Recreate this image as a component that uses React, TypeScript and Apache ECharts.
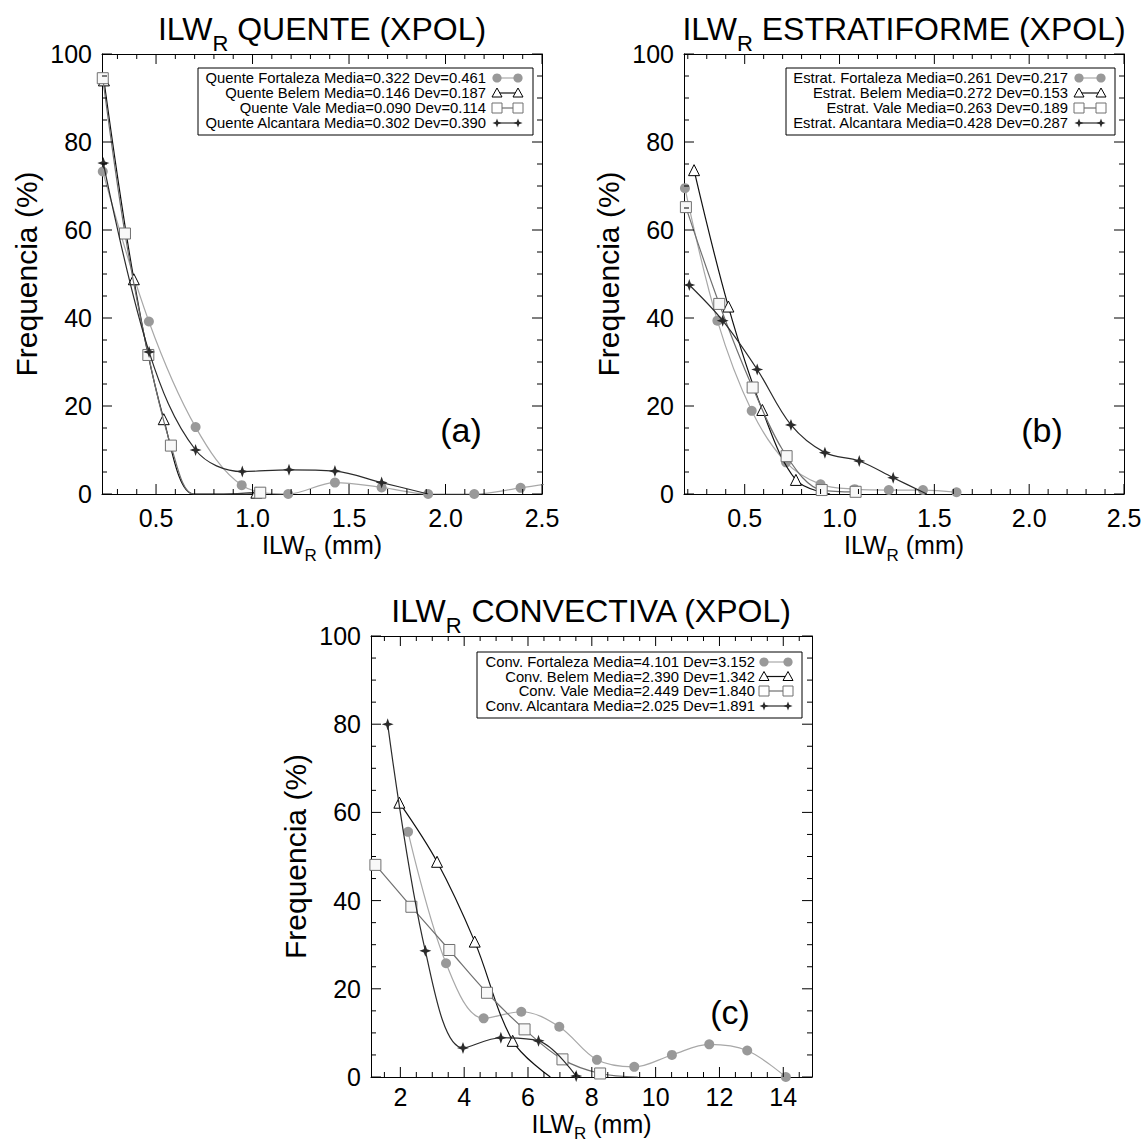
import React, { useEffect, useRef } from "react";
import * as echarts from "echarts";

const FONT = "'Liberation Sans', Arial, Helvetica, sans-serif";

// ---------------- (a) QUENTE ----------------
const quenteFortaleza: number[][] = [[0.224, 73.3], [0.463, 39.2], [0.705, 15.2], [0.944, 2.0], [1.185, 0], [1.427, 2.6], [1.669, 1.5], [1.91, 0], [2.149, 0], [2.389, 1.4], [2.63, 3.0]];
const quenteBelem: number[][] = [[0.23, 94.0], [0.385, 48.8], [0.54, 17.0], [0.695, 0], [0.85, 0], [1.02, 0.3]];
const quenteBelemNoMarker = [3, 4];
const quenteVale: number[][] = [[0.224, 94.5], [0.339, 59.2], [0.46, 31.6], [0.577, 11.0], [0.694, 0], [0.811, 0], [0.928, 0], [1.04, 0.3]];
const quenteValeNoMarker = [4, 5, 6];
const quenteAlcantara: number[][] = [[0.227, 75.2], [0.464, 32.3], [0.705, 10.0], [0.947, 5.1], [1.189, 5.5], [1.427, 5.2], [1.669, 2.6], [1.91, 0]];
const quenteAlcantaraNoMarker = [7];
const quenteLegend = [
  "Quente Fortaleza Media=0.322 Dev=0.461",
  "Quente Belem Media=0.146 Dev=0.187",
  "Quente Vale Media=0.090 Dev=0.114",
  "Quente Alcantara Media=0.302 Dev=0.390",
];
const quenteXLabels = [0.5, 1.0, 1.5, 2.0, 2.5];

// ---------------- (b) ESTRATIFORME ----------------
const estratFortaleza: number[][] = [[0.185, 69.5], [0.356, 39.4], [0.537, 18.9], [0.718, 7.2], [0.9, 2.2], [1.08, 1.1], [1.26, 0.9], [1.44, 0.9], [1.617, 0.4]];
const estratBelem: number[][] = [[0.233, 73.6], [0.414, 42.6], [0.593, 19.1], [0.77, 3.2], [0.95, 0]];
const estratBelemNoMarker = [4];
const estratVale: number[][] = [[0.19, 65.2], [0.366, 43.2], [0.542, 24.2], [0.721, 8.6], [0.906, 0.9], [1.085, 0.5]];
const estratAlcantara: number[][] = [[0.208, 47.5], [0.384, 39.4], [0.566, 28.3], [0.744, 15.7], [0.923, 9.4], [1.104, 7.5], [1.283, 3.7], [1.46, 0]];
const estratAlcantaraNoMarker = [7];
const estratLegend = [
  "Estrat. Fortaleza Media=0.261 Dev=0.217",
  "Estrat. Belem Media=0.272 Dev=0.153",
  "Estrat. Vale Media=0.263 Dev=0.189",
  "Estrat. Alcantara Media=0.428 Dev=0.287",
];
const estratXLabels = [0.5, 1.0, 1.5, 2.0, 2.5];

// ---------------- (c) CONVECTIVA ----------------
const convFortaleza: number[][] = [[2.241, 55.6], [3.431, 25.8], [4.61, 13.3], [5.79, 14.8], [6.98, 11.4], [8.16, 3.9], [9.33, 2.3], [10.51, 5.0], [11.68, 7.4], [12.87, 6.0], [14.08, 0]];
const convBelem: number[][] = [[1.969, 62.2], [3.15, 48.8], [4.33, 30.7], [5.52, 8.2], [6.7, 0]];
const convBelemNoMarker = [4];
const convVale: number[][] = [[1.218, 48.1], [2.345, 38.6], [3.535, 28.8], [4.714, 19.1], [5.892, 10.8], [7.08, 4.0], [8.26, 0.8], [9.44, 0]];
const convValeNoMarker = [7];
const convAlcantara: number[][] = [[1.603, 80.0], [2.783, 28.6], [3.963, 6.6], [5.15, 8.9], [6.33, 8.2], [7.51, 0.2]];
const convLegend = [
  "Conv. Fortaleza Media=4.101 Dev=3.152",
  "Conv. Belem Media=2.390 Dev=1.342",
  "Conv. Vale Media=2.449 Dev=1.840",
  "Conv. Alcantara Media=2.025 Dev=1.891",
];
const convXLabels = [2, 4, 6, 8, 10, 12, 14];

const yMajorTicks = [0, 20, 40, 60, 80, 100];
const yTitle = "Frequencia (%)";

// ---------------- helpers ----------------
function minorTicks(from: number, to: number, step: number, major: number[]) {
  const out: number[] = [];
  for (let v = from; v <= to + 1e-9; v += step) {
    const r = Math.round(v * 1000) / 1000;
    if (!major.some((m) => Math.abs(m - r) < 1e-6)) out.push(r);
  }
  return out;
}
const yMinorTicks = minorTicks(5, 95, 5, yMajorTicks);

const STAR = "path://M0,-10 L2.6,-2.6 L10,0 L2.6,2.6 L0,10 L-2.6,2.6 L-10,0 L-2.6,-2.6 Z";

const STYLES: any = {
  fortaleza: { line: "#a8a8a8", symbol: "circle", size: 10, item: { color: "#999999", borderWidth: 0 } },
  belem: { line: "#111111", symbol: "triangle", size: 11, item: { color: "#ffffff", borderColor: "#000000", borderWidth: 1 } },
  vale: { line: "#707070", symbol: "rect", size: 11, item: { color: "#f8f8f8", borderColor: "#707070", borderWidth: 1 } },
  alcantara: { line: "#2b2b2b", symbol: STAR, size: 12, item: { color: "#2b2b2b" } },
};
const ORDER = ["fortaleza", "belem", "vale", "alcantara"];

const PANELS = [
  {
    grid: { left: 102, top: 54, width: 440, height: 440 },
    xMin: 0.22, xMax: 2.5, xLabels: quenteXLabels, xMinor: minorTicks(0.3, 2.4, 0.1, quenteXLabels), fmt: (v: number) => v.toFixed(1),
    data: [quenteFortaleza, quenteBelem, quenteVale, quenteAlcantara],
    noMarker: [[], quenteBelemNoMarker, quenteValeNoMarker, quenteAlcantaraNoMarker],
    legend: quenteLegend, title: " QUENTE (XPOL)", tag: "(a)", tagPos: [461, 430], xNameDy: 38, xNameDrop: 8.4, labelMargin: 14,
    legendBox: { x: 198, y: 68, w: 335, h: 67, textRight: 486, rows: [78, 93, 108, 123], s1: 497, s2: 518 },
  },
  {
    grid: { left: 684, top: 54, width: 440, height: 440 },
    xMin: 0.18, xMax: 2.5, xLabels: estratXLabels, xMinor: minorTicks(0.2, 2.4, 0.1, estratXLabels), fmt: (v: number) => v.toFixed(1),
    data: [estratFortaleza, estratBelem, estratVale, estratAlcantara],
    noMarker: [[], estratBelemNoMarker, [], estratAlcantaraNoMarker],
    legend: estratLegend, title: " ESTRATIFORME (XPOL)", tag: "(b)", tagPos: [1042, 430], xNameDy: 38, xNameDrop: 8.4, labelMargin: 14,
    legendBox: { x: 786, y: 68, w: 329, h: 67, textRight: 1068, rows: [78, 93, 108, 123], s1: 1079, s2: 1101 },
  },
  {
    grid: { left: 371, top: 636, width: 441, height: 441 },
    xMin: 1.08, xMax: 14.9, xLabels: convXLabels, xMinor: minorTicks(1.5, 14.5, 0.5, convXLabels), fmt: (v: number) => String(v),
    data: [convFortaleza, convBelem, convVale, convAlcantara],
    noMarker: [[], convBelemNoMarker, convValeNoMarker, []],
    legend: convLegend, title: " CONVECTIVA (XPOL)", tag: "(c)", tagPos: [730, 1012], xNameDy: 34, xNameDrop: 7, labelMargin: 10,
    legendBox: { x: 477, y: 652, w: 325, h: 66, textRight: 755, rows: [662, 676.5, 691, 706], s1: 764, s2: 788 },
  },
];

function subText(pre: string, sub: string, post: string, F: number, f: number, drop: number) {
  const P = drop + (F - f) * 0.85;
  return {
    text: `{m|${pre}}{s|${sub}}{m|${post}}`,
    rich: {
      m: { fontSize: F, fontFamily: FONT, fill: "#000", lineHeight: F, verticalAlign: "top" },
      s: { fontSize: f, fontFamily: FONT, fill: "#000", lineHeight: f, verticalAlign: "top", padding: [P, 0, 0, 0] },
    },
  };
}

function legendSymbol(kind: string, cx: number, cy: number): any {
  if (kind === "fortaleza") return { type: "circle", z: 101, shape: { cx, cy, r: 4.6 }, style: { fill: "#999999" } };
  if (kind === "belem")
    return { type: "polygon", z: 101, shape: { points: [[cx, cy - 5], [cx + 5, cy + 4], [cx - 5, cy + 4]] }, style: { fill: "#fff", stroke: "#000", lineWidth: 1 } };
  if (kind === "vale") return { type: "rect", z: 101, shape: { x: cx - 5, y: cy - 5, width: 10, height: 10 }, style: { fill: "#fff", stroke: "#707070", lineWidth: 1 } };
  const r = 4.6, q = 1.2;
  return {
    type: "polygon", z: 101,
    shape: { points: [[cx, cy - r], [cx + q, cy - q], [cx + r, cy], [cx + q, cy + q], [cx, cy + r], [cx - q, cy + q], [cx - r, cy], [cx - q, cy - q]] },
    style: { fill: "#2b2b2b" },
  };
}

function buildOption() {
  const grids: any[] = [];
  const xAxes: any[] = [];
  const yAxes: any[] = [];
  const series: any[] = [];
  const graphics: any[] = [];

  PANELS.forEach((p, g) => {
    grids.push({ ...p.grid, show: false, containLabel: false, outerBoundsMode: "none" });
    const lineStyle = { color: "#000", width: 1 };
    const baseX = { type: "value", gridIndex: g, min: p.xMin, max: p.xMax, splitLine: { show: false }, axisTick: { show: false } };
    xAxes.push(
      {
        ...baseX, position: "bottom",
        axisLine: { show: true, onZero: false, lineStyle },
        axisLabel: { show: true, customValues: p.xLabels, formatter: p.fmt, fontSize: 25, lineHeight: 20, fontFamily: FONT, color: "#000", margin: p.labelMargin },
      },
      { ...baseX, position: "top", axisLine: { show: true, onZero: false, lineStyle }, axisLabel: { show: false } }
    );
    const baseY = {
      type: "value", gridIndex: g, min: 0, max: 100, interval: 20, splitLine: { show: false },
      axisLine: { show: true, onZero: false, lineStyle }, axisTick: { show: false },
    };
    yAxes.push(
      { ...baseY, position: "left", axisLabel: { show: true, fontSize: 25, fontFamily: FONT, color: "#000", margin: 10, showMinLabel: true, showMaxLabel: true } },
      { ...baseY, position: "right", axisLabel: { show: false } }
    );

    ORDER.forEach((kind, si) => {
      const st = STYLES[kind];
      const hide = p.noMarker[si] as number[];
      series.push({
        type: "line",
        name: p.legend[si],
        xAxisIndex: g * 2,
        yAxisIndex: g * 2,
        data: (p.data[si] as number[][]).map((pt, i) => (hide.includes(i) ? { value: pt, symbol: "none" } : pt)),
        smooth: 0.35,
        clip: true,
        symbol: st.symbol,
        symbolSize: st.size,
        showSymbol: true,
        lineStyle: { color: st.line, width: 1.2 },
        itemStyle: st.item,
        emphasis: { disabled: true },
        z: 2 + si,
      });
    });

    const cx = p.grid.left + p.grid.width / 2;
    const top = p.grid.top;
    const bottom = p.grid.top + p.grid.height;
    graphics.push({ type: "text", x: cx, y: top - 41, style: { ...subText("ILW", "R", p.title, 32, 22, 11), align: "center", verticalAlign: "top" } });
    graphics.push({ type: "text", x: cx, y: bottom + p.xNameDy, style: { ...subText("ILW", "R", " (mm)", 25, 17, p.xNameDrop), align: "center", verticalAlign: "top" } });
    graphics.push({
      type: "text", x: p.grid.left - 76, y: top + p.grid.height / 2, rotation: Math.PI / 2,
      style: { text: yTitle, fontSize: 30, fontFamily: FONT, fill: "#000", align: "center", verticalAlign: "middle" },
    });
    graphics.push({ type: "text", x: p.tagPos[0], y: p.tagPos[1], style: { text: p.tag, fontSize: 34, fontFamily: FONT, fill: "#000", align: "center", verticalAlign: "middle" } });
    const lb = p.legendBox;
    graphics.push({ type: "rect", z: 100, shape: { x: lb.x, y: lb.y, width: lb.w, height: lb.h }, style: { fill: "#fff", stroke: "#000", lineWidth: 1 } });
    ORDER.forEach((kind, si) => {
      const y = lb.rows[si];
      graphics.push({ type: "text", z: 101, x: lb.textRight, y, style: { text: p.legend[si], fontSize: 14.8, fontFamily: FONT, fill: "#000", align: "right", verticalAlign: "middle" } });
      graphics.push({ type: "line", z: 101, shape: { x1: lb.s1, y1: y, x2: lb.s2, y2: y }, style: { stroke: STYLES[kind].line, lineWidth: 1.2 } });
      graphics.push(legendSymbol(kind, lb.s1, y));
      graphics.push(legendSymbol(kind, lb.s2, y));
    });
  });

  return {
    animation: false,
    backgroundColor: "#ffffff",
    grid: grids,
    xAxis: xAxes,
    yAxis: yAxes,
    series,
    graphic: { elements: graphics },
  };
}

// inward ticks on all four sides, positioned through the axes' own scales
function buildTicks(chart: any) {
  const out: any[] = [];
  const st = { stroke: "#000", lineWidth: 1 };
  PANELS.forEach((p, g) => {
    const L = p.grid.left, R = p.grid.left + p.grid.width;
    const T = p.grid.top, B = p.grid.top + p.grid.height;
    const xs = (vals: number[], len: number) => {
      vals.forEach((v) => {
        const px = chart.convertToPixel({ xAxisIndex: g * 2 }, v);
        if (px == null || isNaN(px)) return;
        out.push({ type: "line", z: 50, silent: true, shape: { x1: px, y1: B, x2: px, y2: B - len }, style: st });
        out.push({ type: "line", z: 50, silent: true, shape: { x1: px, y1: T, x2: px, y2: T + len }, style: st });
      });
    };
    const ys = (vals: number[], len: number) => {
      vals.forEach((v) => {
        const py = chart.convertToPixel({ yAxisIndex: g * 2 }, v);
        if (py == null || isNaN(py)) return;
        out.push({ type: "line", z: 50, silent: true, shape: { x1: L, y1: py, x2: L + len, y2: py }, style: st });
        out.push({ type: "line", z: 50, silent: true, shape: { x1: R, y1: py, x2: R - len, y2: py }, style: st });
      });
    };
    xs(p.xLabels, 10);
    xs(p.xMinor, 5);
    ys(yMajorTicks, 10);
    ys(yMinorTicks, 5);
  });
  return out;
}

export default function App() {
  const ref = useRef<HTMLDivElement>(null);
  useEffect(() => {
    const chart = echarts.init(ref.current as HTMLDivElement, null, { renderer: "svg" });
    const opt: any = buildOption();
    chart.setOption(opt);
    const ticks = buildTicks(chart);
    chart.setOption({ graphic: { elements: [...opt.graphic.elements, ...ticks] } });
    return () => chart.dispose();
  }, []);
  return <div ref={ref} style={{ position: "fixed", left: 0, top: 0, width: 1145, height: 1142, background: "#fff" }} />;
}
